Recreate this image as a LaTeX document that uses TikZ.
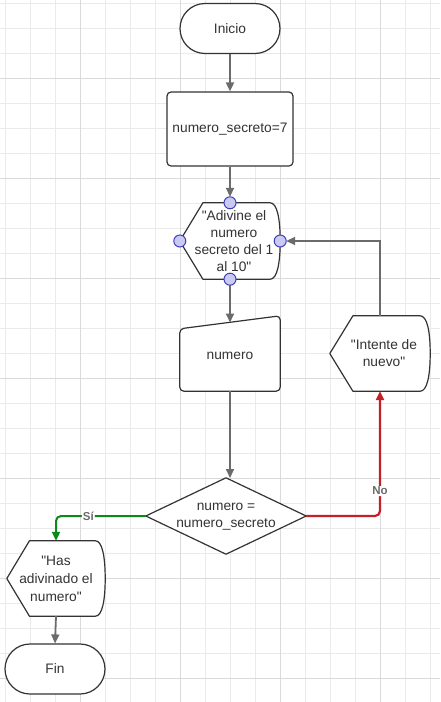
\documentclass[tikz,border=0pt]{standalone}
\usepackage{fontspec}
\setmainfont{Liberation Sans}
\usetikzlibrary{arrows.meta,calc}

\definecolor{txt}{HTML}{333333}
\definecolor{edge}{HTML}{333333}
\definecolor{conn}{HTML}{6B6B6B}
\definecolor{gminor}{HTML}{EAEAEA}
\definecolor{gmajor}{HTML}{DADADA}
\definecolor{yesgreen}{HTML}{0B8A1A}
\definecolor{nored}{HTML}{C4202A}
\definecolor{ptfill}{HTML}{C9C9F2}
\definecolor{ptdraw}{HTML}{3E3EB8}

\pgfdeclarelayer{grid}
\pgfdeclarelayer{shapes}
\pgfsetlayers{grid,shapes,main}

% straight double quote
\newcommand\dq{\textquotedbl}

\tikzset{
  outline/.style={draw=edge, line width=1.2pt, fill=white, line join=round},
  txtnode/.style={rectangle, inner sep=0pt, align=center, text=txt,
    font=\fontsize{13.75pt}{17pt}\selectfont},
  terminal/.style={txtnode, outline, rounded corners=25pt,
    minimum width=100pt, minimum height=50pt},
  process/.style={txtnode, outline, rounded corners=4pt,
    minimum width=126pt, minimum height=74pt},
  flow/.style={draw=conn, line width=1.8pt,
    -{Triangle[length=9pt,width=8pt]}},
  yesflow/.style={draw=yesgreen, line width=2pt, rounded corners=5pt,
    -{Triangle[length=9pt,width=8pt]}},
  noflow/.style={draw=nored, line width=2.2pt, rounded corners=5pt,
    -{Triangle[length=9pt,width=8pt]}},
  lbl/.style={fill=white, inner sep=1pt, text=conn,
    font=\fontsize{11.5pt}{12pt}\selectfont\bfseries},
  port/.style={circle, draw=ptdraw, fill=ptfill, line width=1pt,
    minimum size=12pt, inner sep=0pt},
}

% display symbol: pointed left side, bulging right side
\newcommand\dispoutline[1]{%
  \draw[outline] (#1.west)
    -- ($(#1.north west)!0.23!(#1.north east)$)
    -- ($(#1.north west)!0.9!(#1.north east)$)
    .. controls ($(#1.north east)+(-3,0)$) and ($(#1.east)+(0,-22)$) .. (#1.east)
    .. controls ($(#1.east)+(0,22)$) and ($(#1.south east)+(-3,0)$) ..
       ($(#1.south west)!0.9!(#1.south east)$)
    -- ($(#1.south west)!0.23!(#1.south east)$)
    -- cycle;}

\begin{document}
\begin{tikzpicture}[x=1pt,y=-1pt]
\useasboundingbox (0,0) rectangle (440,702);

% background grid
\begin{pgfonlayer}{grid}
  \fill[white] (0,0) rectangle (440,702);
  \foreach \gx in {5,30,...,430} \draw[gminor, line width=1pt] (\gx,0) -- (\gx,702);
  \foreach \gy in {3,28,...,700} \draw[gminor, line width=1pt] (0,\gy) -- (440,\gy);
  \foreach \gx in {80,180,280,380} \draw[gmajor, line width=1pt] (\gx,0) -- (\gx,702);
  \foreach \gy in {78,178,...,700} \draw[gmajor, line width=1pt] (0,\gy) -- (440,\gy);
\end{pgfonlayer}

% nodes
\node[terminal] (inicio) at (230,28.5) {Inicio};
\node[process] (asig) at (230,129) {numero\_secreto=7};
\node[txtnode, minimum width=100pt, minimum height=76pt,
      label={[txtnode, xshift=4pt]center:\dq Adivine el\\numero\\secreto del 1\\al 10\dq}]
  (adiv) at (230,241) {};
\node[txtnode, minimum width=100pt, minimum height=75pt] (num) at (230,353.5)
  {\raisebox{-13pt}{numero}};
\coordinate (numtop) at (230,322.5);
\node[txtnode, minimum width=160pt, minimum height=76pt] (dec) at (226,516)
  {\raisebox{13pt}{\begin{tabular}{@{}c@{}}numero =\\numero\_secreto\end{tabular}}};
\node[txtnode, minimum width=100pt, minimum height=75pt,
      label={[txtnode, xshift=4pt]center:\dq Intente de\\nuevo\dq}]
  (int) at (380,353.5) {};
\node[txtnode, minimum width=98pt, minimum height=75pt,
      font=\fontsize{13.75pt}{18pt}\selectfont] (has) at (56,578.5)
  {\dq Has\\adivinado el\\numero\dq};
\node[terminal] (fin) at (55,669) {Fin};

% symbol outlines
\begin{pgfonlayer}{shapes}
  \dispoutline{adiv}
  \dispoutline{int}
  \dispoutline{has}
  \draw[outline, rounded corners=4pt] ($(num.north west)+(0,13)$)
    -- (num.north east) -- (num.south east) -- (num.south west) -- cycle;
  \draw[outline] (dec.west) -- (dec.north) -- (dec.east) -- (dec.south) -- cycle;
\end{pgfonlayer}

% connectors
\draw[flow] (inicio.south) -- (asig.north);
\draw[flow, shorten >=6pt] (asig.south) -- (adiv.north);
\draw[flow] (adiv.south) -- (numtop);
\draw[flow] (num.south) -- (230,478);
\draw[yesflow] (dec.west) -| (has.north) node[pos=0.32, lbl] {Sí};
\draw[noflow] (dec.east) -| (int.south) node[pos=0.6, lbl] {No};
\draw[flow, shorten >=6pt] (int.north) |- (adiv.east);
\draw[flow] (has.south) -- (fin.north);

% connection points of the display symbol
\foreach \a in {north,south,east,west}
  \node[port] (adiv-\a) at (adiv.\a) {};
\end{tikzpicture}
\end{document}
